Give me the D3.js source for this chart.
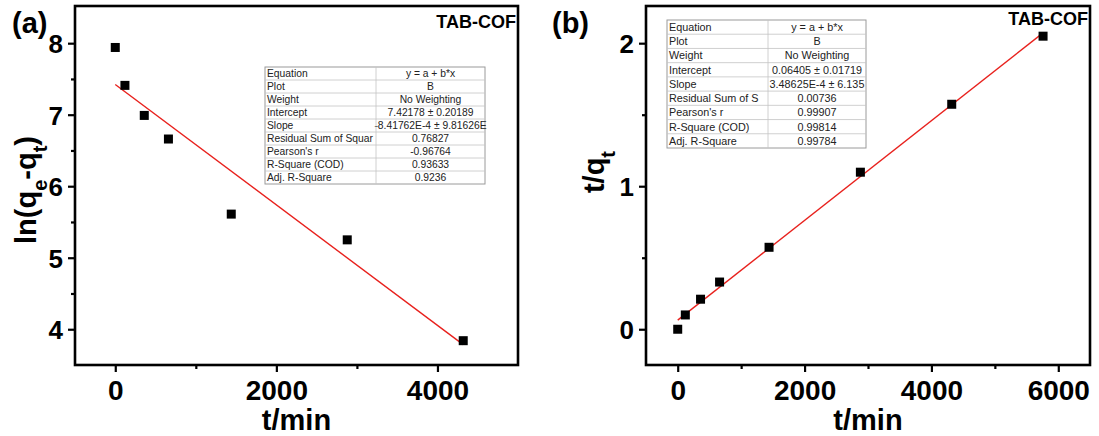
<!DOCTYPE html>
<html>
<head>
<meta charset="utf-8">
<script src="https://cdn.jsdelivr.net/npm/d3@7"></script>
<style>
  html, body { margin: 0; padding: 0; background: #fff; }
  svg { display: block; }
  text { font-family: Arial, "Liberation Sans", sans-serif; }
</style>
</head>
<body>
<svg id="chart" width="1099" height="436"></svg>
<script>
// Sampling times (min)
const timesA = [0, 120, 360, 660, 1440, 2880, 4320];
const timesB = [0, 120, 360, 660, 1440, 2880, 4320, 5760];

// Pseudo-first-order: ln(qe - qt)
const lnValues = [7.94, 7.41, 6.99, 6.66, 5.61, 5.25, 3.84];
// Pseudo-second-order: t/qt
const tqValues = [0.0, 0.10, 0.21, 0.33, 0.573, 1.098, 1.573, 2.049];

// Linear fit parameters
const fitA = { intercept: 7.42178, slope: -8.41762e-4 };
const fitB = { intercept: 0.06405, slope: 3.48625e-4 };

// Fit report tables
const tableALabels = ["Equation", "Plot", "Weight", "Intercept", "Slope", "Residual Sum of Squar", "Pearson's r", "R-Square (COD)", "Adj. R-Square"];
const tableAValues = ["y = a + b*x", "B", "No Weighting", "7.42178 \u00b1 0.20189", "-8.41762E-4 \u00b1 9.81626E", "0.76827", "-0.96764", "0.93633", "0.9236"];
const tableBLabels = ["Equation", "Plot", "Weight", "Intercept", "Slope", "Residual Sum of S", "Pearson's r", "R-Square (COD)", "Adj. R-Square"];
const tableBValues = ["y = a + b*x", "B", "No Weighting", "0.06405 \u00b1 0.01719", "3.48625E-4 \u00b1 6.135", "0.00736", "0.99907", "0.99814", "0.99784"];

// Tick values
const xTicksA = [0, 2000, 4000];
const xMinorA = [1000, 3000];
const yTicksA = [4, 5, 6, 7, 8];
const yMinorA = [4.5, 5.5, 6.5, 7.5];
const xTicksB = [0, 2000, 4000, 6000];
const xMinorB = [1000, 3000, 5000];
const yTicksB = [0, 1, 2];
const yMinorB = [0.5, 1.5];

const svg = d3.select("#chart");

function drawPanel(cfg) {
  const g = svg.append("g");
  const x = d3.scaleLinear().domain(cfg.xDomain).range([cfg.left, cfg.right]);
  const y = d3.scaleLinear().domain(cfg.yDomain).range([cfg.bottom, cfg.top]);

  // fit line over the data range
  const x0 = d3.min(cfg.xs), x1 = d3.max(cfg.xs);
  g.append("line")
    .attr("x1", x(x0)).attr("y1", y(cfg.fit.intercept + cfg.fit.slope * x0))
    .attr("x2", x(x1)).attr("y2", y(cfg.fit.intercept + cfg.fit.slope * x1))
    .attr("stroke", "#e8211d").attr("stroke-width", 1.4);

  // data squares
  const s = 9;
  g.selectAll("rect.pt").data(cfg.xs.map((t, i) => [t, cfg.ys[i]]))
    .enter().append("rect")
    .attr("x", d => x(d[0]) - s / 2).attr("y", d => y(d[1]) - s / 2)
    .attr("width", s).attr("height", s).attr("fill", "#000");

  // axes
  const xAxis = d3.axisBottom(x).tickValues(cfg.xTicks).tickSize(7).tickPadding(8).tickFormat(d3.format("d"));
  const xMinor = d3.axisBottom(x).tickValues(cfg.xMinor).tickSize(4).tickFormat("");
  const yAxis = d3.axisLeft(y).tickValues(cfg.yTicks).tickSize(7).tickPadding(5).tickFormat(d3.format("d"));
  const yMinor = d3.axisLeft(y).tickValues(cfg.yMinor).tickSize(4).tickFormat("");

  const gx = g.append("g").attr("transform", `translate(0,${cfg.bottom})`).call(xAxis);
  const gxm = g.append("g").attr("transform", `translate(0,${cfg.bottom})`).call(xMinor);
  const gy = g.append("g").attr("transform", `translate(${cfg.left},0)`).call(yAxis);
  const gym = g.append("g").attr("transform", `translate(${cfg.left},0)`).call(yMinor);
  [gx, gxm, gy, gym].forEach(a => {
    a.select(".domain").remove();
    a.selectAll(".tick line").attr("stroke", "#000").attr("stroke-width", 2.2);
  });
  gx.selectAll(".tick text").attr("font-size", 28).attr("font-weight", "bold").attr("fill", "#000");
  gy.selectAll(".tick text").attr("font-size", 26).attr("font-weight", "bold").attr("fill", "#000").attr("dy", "0.36em");

  // frame
  g.append("rect")
    .attr("x", cfg.left).attr("y", cfg.top)
    .attr("width", cfg.right - cfg.left).attr("height", cfg.bottom - cfg.top)
    .attr("fill", "none").attr("stroke", "#000").attr("stroke-width", 2.6);

  // x title
  g.append("text")
    .attr("x", (cfg.left + cfg.right) / 2).attr("y", 430)
    .attr("text-anchor", "middle").attr("font-size", 29).attr("font-weight", "bold")
    .text("t/min");

  // y title
  const yt = g.append("text")
    .attr("transform", `translate(${cfg.yTitleX},${cfg.yTitleY}) rotate(-90)`)
    .attr("text-anchor", "middle").attr("font-size", 29).attr("font-weight", "bold");
  cfg.yTitle.forEach(part => {
    const t = yt.append("tspan").text(part.t);
    if (part.sub) t.attr("baseline-shift", "sub").attr("font-size", 20);
  });

  // panel letter
  g.append("text").attr("x", cfg.letterX).attr("y", cfg.letterY)
    .attr("font-size", 29).attr("font-weight", "bold").text(cfg.letter);

  // sample name
  g.append("text").attr("x", cfg.right - 2).attr("y", cfg.nameY)
    .attr("text-anchor", "end").attr("font-size", 18).attr("font-weight", "bold")
    .text("TAB-COF");

  // fit report table
  const tb = cfg.table;
  const rowH = (tb.bottom - tb.top) / tb.labels.length;
  const tg = g.append("g");
  tg.append("rect").attr("x", tb.left).attr("y", tb.top)
    .attr("width", tb.right - tb.left).attr("height", tb.bottom - tb.top)
    .attr("fill", "#fff").attr("stroke", "#9a9a9a").attr("stroke-width", 1);
  tb.labels.forEach((lab, i) => {
    const yy = tb.top + rowH * i;
    if (i > 0) {
      tg.append("line").attr("x1", tb.left).attr("x2", tb.right)
        .attr("y1", yy).attr("y2", yy).attr("stroke", "#c4c4c4").attr("stroke-width", 0.8);
    }
    tg.append("text").attr("x", tb.left + 2).attr("y", yy + rowH / 2)
      .attr("dy", "0.36em").attr("font-size", tb.fontSize).attr("fill", "#222").text(lab);
    tg.append("text").attr("x", (tb.split + tb.right) / 2).attr("y", yy + rowH / 2)
      .attr("dy", "0.36em").attr("text-anchor", "middle")
      .attr("font-size", tb.fontSize).attr("fill", "#222").text(tb.values[i]);
  });
  tg.append("line").attr("x1", tb.split).attr("x2", tb.split)
    .attr("y1", tb.top).attr("y2", tb.bottom).attr("stroke", "#c4c4c4").attr("stroke-width", 0.8);
}

drawPanel({
  left: 75, right: 518, top: 6, bottom: 365,
  xDomain: [-500, 5000], yDomain: [3.5, 8.52],
  xs: timesA, ys: lnValues, fit: fitA,
  xTicks: xTicksA, xMinor: xMinorA, yTicks: yTicksA, yMinor: yMinorA,
  yTitle: [{ t: "ln(q" }, { t: "e", sub: true }, { t: "-q" }, { t: "t", sub: true }, { t: ")" }],
  yTitleX: 36, yTitleY: 190,
  letter: "(a)", letterX: 12, letterY: 33,
  nameY: 28,
  table: { left: 265, right: 485, top: 67, bottom: 184, split: 376, fontSize: 10.3,
           labels: tableALabels, values: tableAValues }
});

drawPanel({
  left: 646, right: 1090, top: 6, bottom: 365,
  xDomain: [-500, 6500], yDomain: [-0.25, 2.26],
  xs: timesB, ys: tqValues, fit: fitB,
  xTicks: xTicksB, xMinor: xMinorB, yTicks: yTicksB, yMinor: yMinorB,
  yTitle: [{ t: "t/q" }, { t: "t", sub: true }],
  yTitleX: 604, yTitleY: 172,
  letter: "(b)", letterX: 552, letterY: 33,
  nameY: 25,
  table: { left: 667, right: 866, top: 20, bottom: 148, split: 768, fontSize: 10.8,
           labels: tableBLabels, values: tableBValues }
});
</script>
</body>
</html>
